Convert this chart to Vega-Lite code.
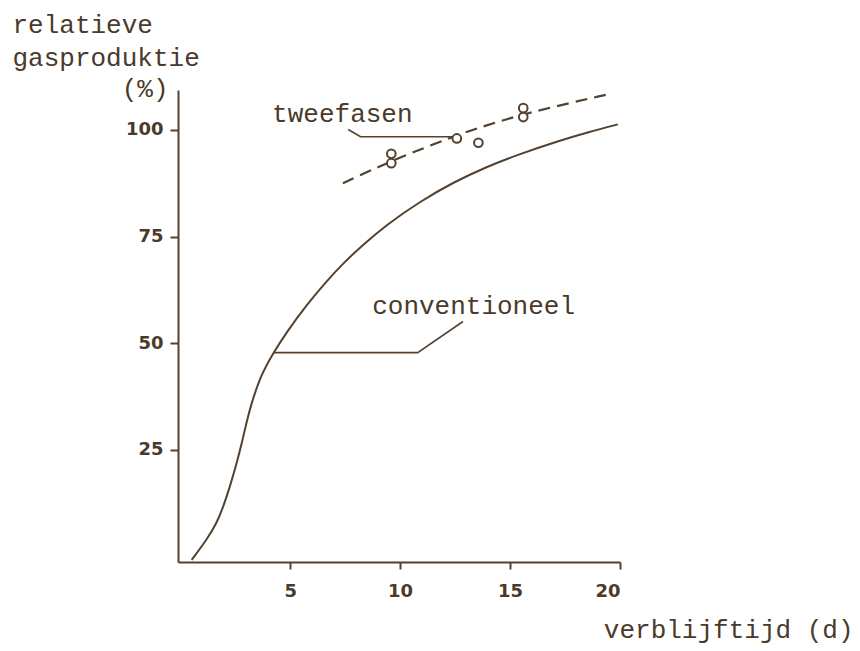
{
  "$schema": "https://vega.github.io/schema/vega-lite/v6.json",
  "width": 442,
  "height": 472,
  "autosize": {"type": "none"},
  "padding": {"left": 178, "top": 90, "right": 240, "bottom": 89},
  "background": "#ffffff",
  "config": {
    "view": {"stroke": null},
    "axis": {"grid": false}
  },
  "datasets": {
    "conventioneel": [
      {"x": 0.52, "y": -0.77},
      {"x": 1.2, "y": 3.91},
      {"x": 1.66, "y": 7.83},
      {"x": 1.96, "y": 11.72},
      {"x": 2.26, "y": 16.4},
      {"x": 2.57, "y": 21.89},
      {"x": 2.8, "y": 26.57},
      {"x": 3.02, "y": 31.56},
      {"x": 3.22, "y": 35.55},
      {"x": 3.63, "y": 42.11},
      {"x": 4.23, "y": 47.7},
      {"x": 4.84, "y": 52.6},
      {"x": 5.75, "y": 59.0},
      {"x": 6.66, "y": 64.6},
      {"x": 7.41, "y": 68.7},
      {"x": 8.2, "y": 72.6},
      {"x": 9.39, "y": 77.8},
      {"x": 10.9, "y": 83.2},
      {"x": 12.41, "y": 87.7},
      {"x": 13.93, "y": 91.35},
      {"x": 15.3, "y": 94.1},
      {"x": 17.26, "y": 97.5},
      {"x": 18.62, "y": 99.55},
      {"x": 19.9, "y": 101.3}
    ],
    "tweefasen": [
      {"x": 7.4, "y": 87.5},
      {"x": 9.7, "y": 93.0},
      {"x": 12.4, "y": 98.4},
      {"x": 13.5, "y": 100.4},
      {"x": 15.9, "y": 104.2},
      {"x": 19.6, "y": 108.5}
    ],
    "metingen": [
      {"x": 9.6, "y": 94.4},
      {"x": 9.6, "y": 92.2},
      {"x": 12.58, "y": 98.0},
      {"x": 13.56, "y": 97.0},
      {"x": 15.6, "y": 105.1},
      {"x": 15.6, "y": 103.0}
    ],
    "verwijzers": [
      {"lijn": "tweefasen", "volgorde": 1, "x": 7.64, "y": 100.1},
      {"lijn": "tweefasen", "volgorde": 2, "x": 8.2, "y": 98.4},
      {"lijn": "tweefasen", "volgorde": 3, "x": 12.4, "y": 98.4},
      {"lijn": "conventioneel", "volgorde": 1, "x": 4.23, "y": 47.8},
      {"lijn": "conventioneel", "volgorde": 2, "x": 10.8, "y": 47.8},
      {"lijn": "conventioneel", "volgorde": 3, "x": 12.86, "y": 55.1}
    ],
    "labels": [
      {"tekst": "tweefasen", "x": 4.18, "y": 101.9},
      {"tekst": "conventioneel", "x": 8.73, "y": 56.9}
    ]
  },
  "resolve": {"axis": {"y": "independent"}},
  "layer": [
    {
      "data": {"name": "conventioneel"},
      "mark": {"type": "line", "color": "#54412f", "strokeWidth": 2, "interpolate": "basis"},
      "encoding": {
        "x": {
          "field": "x",
          "type": "quantitative",
          "scale": {"domain": [-0.1, 20], "nice": false, "zero": false},
          "axis": {
            "values": [5, 10, 15, 20],
            "domainColor": "#54412f",
            "domainWidth": 2,
            "tickColor": "#54412f",
            "tickWidth": 2,
            "tickSize": 7,
            "labelFont": "DejaVu Sans",
            "labelFontSize": 18,
            "labelFontWeight": "bold",
            "labelColor": "#4a3a2b",
            "labelPadding": 13,
            "title": "verblijftijd (d)",
            "titleFont": "Liberation Mono",
            "titleFontSize": 26,
            "titleFontWeight": "normal",
            "titleColor": "#4a3a2b",
            "titleAlign": "right",
            "titleBaseline": "alphabetic",
            "titleX": 675,
            "titleY": 75
          }
        },
        "y": {
          "field": "y",
          "type": "quantitative",
          "scale": {"domain": [-1.25, 109.35], "nice": false, "zero": false},
          "axis": {
            "orient": "left",
            "values": [25, 50, 75, 100],
            "domainColor": "#54412f",
            "domainWidth": 2,
            "tickColor": "#54412f",
            "tickWidth": 2,
            "tickSize": 8,
            "labelFont": "DejaVu Sans",
            "labelFontSize": 18,
            "labelFontWeight": "bold",
            "labelColor": "#4a3a2b",
            "labelPadding": 7,
            "title": ["relatieve", "gasproduktie"],
            "titleFont": "Liberation Mono",
            "titleFontSize": 26,
            "titleFontWeight": "normal",
            "titleColor": "#4a3a2b",
            "titleAngle": 0,
            "titleAlign": "left",
            "titleBaseline": "alphabetic",
            "titleLineHeight": 33,
            "titleX": -166,
            "titleY": -58
          }
        },
        "order": {"field": "x", "type": "quantitative"}
      }
    },
    {
      "data": {"name": "tweefasen"},
      "mark": {"type": "line", "color": "#54412f", "strokeWidth": 2.2, "strokeDash": [12, 7], "interpolate": "basis"},
      "encoding": {
        "x": {"field": "x", "type": "quantitative"},
        "y": {"field": "y", "type": "quantitative", "axis": null},
        "order": {"field": "x", "type": "quantitative"}
      }
    },
    {
      "data": {"name": "verwijzers"},
      "mark": {"type": "line", "color": "#54412f", "strokeWidth": 1.6},
      "encoding": {
        "x": {"field": "x", "type": "quantitative"},
        "y": {"field": "y", "type": "quantitative", "axis": null},
        "detail": {"field": "lijn", "type": "nominal"},
        "order": {"field": "volgorde", "type": "quantitative"}
      }
    },
    {
      "data": {"name": "metingen"},
      "mark": {"type": "point", "shape": "circle", "size": 75, "filled": false, "fill": "#ffffff", "fillOpacity": 1, "stroke": "#54412f", "strokeWidth": 2, "opacity": 1},
      "encoding": {
        "x": {"field": "x", "type": "quantitative"},
        "y": {"field": "y", "type": "quantitative", "axis": null}
      }
    },
    {
      "data": {"name": "labels"},
      "mark": {"type": "text", "font": "Liberation Mono", "fontSize": 26, "color": "#4a3a2b", "align": "left", "baseline": "alphabetic"},
      "encoding": {
        "x": {"field": "x", "type": "quantitative"},
        "y": {
          "field": "y",
          "type": "quantitative",
          "axis": {
            "orient": "left",
            "title": "(%)",
            "labels": false,
            "ticks": false,
            "domain": false,
            "grid": false,
            "titleFont": "Liberation Mono",
            "titleFontSize": 26,
            "titleFontWeight": "normal",
            "titleColor": "#4a3a2b",
            "titleAngle": 0,
            "titleAlign": "right",
            "titleBaseline": "alphabetic",
            "titleX": -10,
            "titleY": 6
          }
        },
        "text": {"field": "tekst", "type": "nominal"}
      }
    }
  ]
}
